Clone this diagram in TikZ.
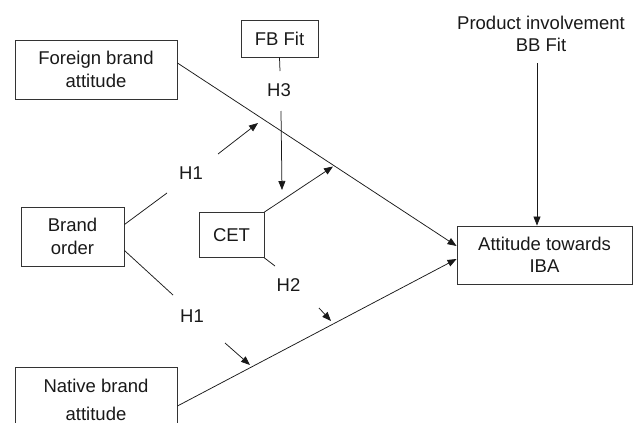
\documentclass[tikz,border=0pt]{standalone}
\usepackage{fontspec}
\setmainfont{Liberation Sans}
\usetikzlibrary{arrows.meta,calc}
\newcommand\diafont{\fontsize{18.5}{22.5}\selectfont}
\begin{document}
\begin{tikzpicture}[x=1pt,y=-1pt,
  box/.style={draw=black!80, line width=0.9pt, align=center, inner sep=0pt, font=\diafont, text=black!90},
  txt/.style={align=center, inner sep=0pt, font=\diafont, text=black!90},
  conn/.style={draw=black!90, line width=0.75pt},
  arr/.style={conn, -{Triangle[length=9pt,width=7pt]}}]
\useasboundingbox (0,0) rectangle (633,423);
\clip (0,0) rectangle (633,423);
% boxes
\node[box, minimum width=162pt, minimum height=59pt] (FBA) at (96,69.5) {Foreign brand\\attitude};
\node[box, minimum width=77pt, minimum height=37pt] (FBF) at (279.5,38.5) {FB Fit};
\node[box, minimum width=103pt, minimum height=59pt] (BO) at (72.5,236.5) {Brand\\order};
\node[box, minimum width=65pt, minimum height=45pt] (CET) at (231.5,235) {CET};
\node[box, minimum width=162pt, minimum height=66pt] (NBA) at (96,400) {Native brand\\[5pt]attitude};
\node[box, minimum width=175pt, minimum height=58pt] (IBA) at (544.5,255) {Attitude towards\\IBA};
% labels
\node[txt] (PI) at (541,34) {Product involvement\\BB Fit};
\node[txt] (H3) at (279,90) {H3};
\node[txt] (H1a) at (191,173.5) {H1};
\node[txt] (H1b) at (192,316) {H1};
\node[txt] (H2) at (288.5,285) {H2};
% free ends
\coordinate (h3a) at (280,71);
\coordinate (h3b) at (281,111);
\coordinate (h3c) at (282,190);
\coordinate (h1a1) at (167,193);
\coordinate (h1a2) at (218,154);
\coordinate (h1a3) at (258,123);
\coordinate (h1b1) at (173,295);
\coordinate (h1b2) at (225,343);
\coordinate (h1b3) at (250,365);
\coordinate (cet1) at (333,166.5);
\coordinate (h2a) at (275,266);
\coordinate (h2b) at (319,308);
\coordinate (h2c) at (331,321);
\coordinate (pia) at (537,63);
% connectors
\draw[arr] ($(FBA.east)+(0,-6.5)$) -- ($(IBA.west)+(0,-9)$);
\draw[arr] ($(NBA.east)+(0,6)$) -- ($(IBA.west)+(0,4)$);
\draw[arr] (pia) -- ($(IBA.north)+(-7.5,0)$);
\draw[conn] (FBF.south) -- (h3a);
\draw[arr] (h3b) -- (h3c);
\draw[conn] ($(BO.east)+(0,-12)$) -- (h1a1);
\draw[arr] (h1a2) -- (h1a3);
\draw[conn] ($(BO.east)+(0,14)$) -- (h1b1);
\draw[arr] (h1b2) -- (h1b3);
\draw[arr] (CET.north east) -- (cet1);
\draw[conn] (CET.south east) -- (h2a);
\draw[arr] (h2b) -- (h2c);
\end{tikzpicture}
\end{document}
